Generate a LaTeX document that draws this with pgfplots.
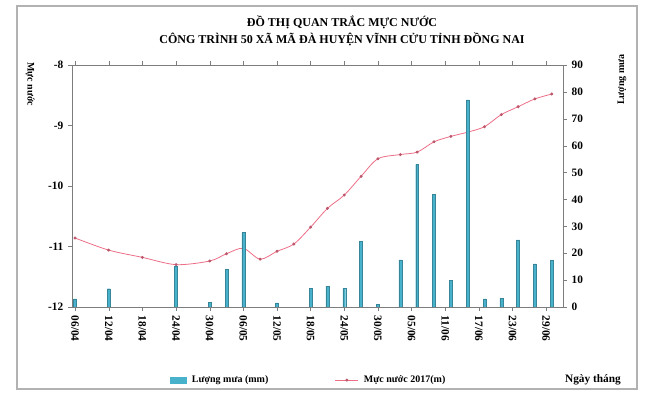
\documentclass[border=0pt]{standalone}
\usepackage{pgfplots}
\pgfplotsset{compat=1.18}
\usepackage{fontspec}
\setmainfont{Liberation Serif}
\definecolor{barcol}{RGB}{72,178,204}
\definecolor{linecol}{RGB}{236,110,135}
\definecolor{axcol}{RGB}{125,125,125}
\begin{document}
\begin{tikzpicture}[x=0.75pt,y=0.75pt]
\useasboundingbox (-72,-91) rectangle (579,307);
\draw[gray!60, line width=1.2pt] (-55,-82) rectangle (565,301);
\pgfplotsset{
  common/.style={
    at={(0,0)}, anchor=south west,
    scale only axis, width=368.25pt, height=181.5pt,
    xmin=-0.55, xmax=87,
    axis line style={axcol}, tick style={axcol},
    tick align=outside, major tick length=3pt,
    /pgf/number format/assume math mode=true,
    tick label style={font=\bfseries\fontsize{8.5}{9}\selectfont},
  }
}
\begin{axis}[
  common,
  ymin=-12, ymax=-8,
  ytick={-12,-11,-10,-9,-8},
  axis y line*=left,
  xtick={0,6,...,84},
  xticklabels={06/04,12/04,18/04,24/04,30/04,06/05,12/05,18/05,24/05,30/05,05/06,11/06,17/06,23/06,29/06},
  x tick label style={rotate=-90, anchor=west},
  clip=false,
]
\addplot[linecol, line width=0.6pt, smooth, tension=0.5, mark=*, mark size=0.8pt, mark options={fill=linecol!80!black, draw=linecol!80!black}] coordinates {
(0,-10.86) (6,-11.06) (12,-11.18) (18,-11.30) (24,-11.24) (27,-11.12) (30,-11.03)
(33,-11.21) (36,-11.08) (39,-10.96) (42,-10.68) (45,-10.37) (48,-10.15) (51,-9.84)
(54,-9.55) (58,-9.48) (61,-9.44) (64,-9.27) (67,-9.18) (70,-9.11) (73,-9.02)
(76,-8.82) (79,-8.69) (82,-8.56) (85,-8.48)
};
\node[font=\bfseries\fontsize{9}{10}\selectfont] at (rel axis cs:0.55,1.178) {ĐỒ THỊ QUAN TRẮC MỰC NƯỚC};
\node[font=\bfseries\fontsize{9}{10}\selectfont] at (rel axis cs:0.55,1.107) {CÔNG TRÌNH 50 XÃ MÃ ĐÀ HUYỆN VĨNH CỬU TỈNH ĐỒNG NAI};
\node[rotate=-90, font=\bfseries\fontsize{7.5}{8}\selectfont] at (rel axis cs:-0.0855,0.921) {Mực nước};
\node[rotate=90, font=\bfseries\fontsize{7.5}{8}\selectfont] at (rel axis cs:1.120,0.94) {Lượng mưa};
\node[font=\bfseries\fontsize{8.5}{9}\selectfont] at (rel axis cs:1.061,-0.302) {Ngày tháng};
\end{axis}
\begin{axis}[
  common,
  ymin=0, ymax=90,
  ytick={0,10,...,90},
  axis y line*=right,
  axis x line=none,
  legend style={at={(0.19,-0.302)}, anchor=west, draw=none, fill=none,
    legend columns=2, font=\bfseries\fontsize{7.5}{8}\selectfont,
    /tikz/every odd column/.append style={column sep=2pt},
    /tikz/every even column/.append style={column sep=48pt}},
]
\addplot[ybar, bar width=2.2pt, fill=barcol, draw=barcol!75!black, line width=0.3pt,
  legend image code/.code={\fill[barcol] (0pt,-2pt) rectangle (12.5pt,2pt);}] coordinates {
(0,3) (6,6.8) (18,15.3) (24,1.8) (27,14.1) (30,27.7) (36,1.5) (42,7) (45,7.8)
(48,7) (51,24.4) (54,1) (58,17.5) (61,53) (64,42) (67,10) (70,77) (73,3)
(76,3.2) (79,25) (82,16) (85,17.3)
};
\addlegendentry{Lượng mưa (mm)}
\addlegendimage{linecol, line width=0.6pt, mark=*, mark size=0.8pt, mark options={fill=linecol!80!black, draw=linecol!80!black}}
\addlegendentry{Mực nước 2017(m)}
\end{axis}
\end{tikzpicture}
\end{document}
